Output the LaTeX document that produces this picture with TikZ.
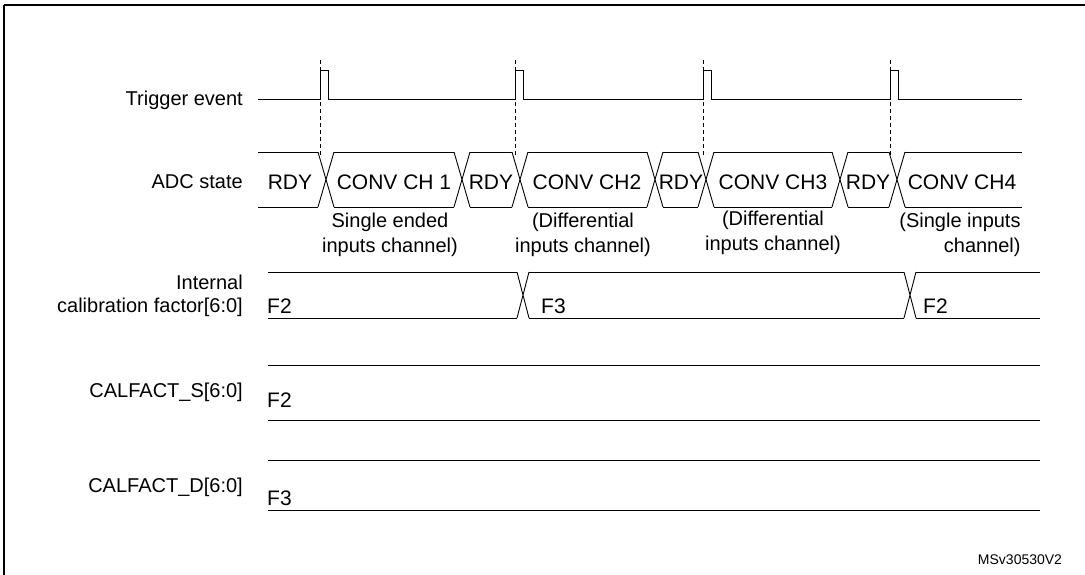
\documentclass[tikz,border=0pt]{standalone}
\usepackage{fontspec}
\setmainfont{Liberation Sans}
\tikzset{
    sig/.style = {draw=black, line width=0.9pt},
    mark-line/.style = {draw=black, line width=0.8pt, dash pattern=on 4pt off 3pt},
    row-label/.style = {anchor=east, align=right, inner sep=2pt, font=\fontsize{20}{23}\selectfont},
    bus-text/.style = {inner sep=1pt, font=\fontsize{21}{24}\selectfont},
    note-text/.style = {align=center, inner sep=1pt, font=\fontsize{20}{25}\selectfont},
}

\begin{document}
\begin{tikzpicture}[x=1pt, y=-1pt]
\useasboundingbox (0,0) rectangle (1085,575);
\draw[line width=1.2pt] (4,5) -- (4,580) (4,5) -- (1090,5);

% trigger event
\node[row-label] (trig) at (245,100) {Trigger event};
\draw[sig] (258,99) -- (320,99) -- (320,70) -- (328,70) -- (328,99) -- (515,99) -- (515,70) -- (523,70) -- (523,99)
    -- (703,99) -- (703,70) -- (711,70) -- (711,99) -- (890,99) -- (890,70) -- (898,70) -- (898,99) -- (1022,99);
\foreach \x in {320,515,703,890}
    \draw[mark-line] (\x,60) -- (\x,155);

% ADC state bus
\node[row-label] (adc) at (245,182) {ADC state};
\draw[sig] (258,152) -- (318,152) (258,207) -- (318,207);
\foreach \a/\b in {326/462,462/520,520/655,655/706,706/840,840/897}
    \draw[sig] (\a+8,152) -- (\b-8,152) (\a+8,207) -- (\b-8,207);
\foreach \c in {326,462,520,655,706,840,897}
    \draw[sig] (\c-8,152) -- (\c+8,207) (\c-8,207) -- (\c+8,152);
\draw[sig] (905,152) -- (1022,152) (905,207) -- (1022,207);
\node[bus-text] (rdy1) at (290,182) {RDY};
\node[bus-text] (ch1) at (394,182) {CONV CH 1};
\node[bus-text] (rdy2) at (491,182) {RDY};
\node[bus-text] (ch2) at (587,182) {CONV CH2};
\node[bus-text] (rdy3) at (681,182) {RDY};
\node[bus-text] (ch3) at (773,182) {CONV CH3};
\node[bus-text] (rdy4) at (868,182) {RDY};
\node[bus-text] (ch4) at (962,182) {CONV CH4};
\node[note-text] (n1) at (390,235) {Single ended\\inputs channel)};
\node[note-text] (n2) at (583,235) {(Differential\\inputs channel)};
\node[note-text] (n3) at (773,233) {(Differential\\inputs channel)};
\node[note-text] (n4) at (960,235) {(Single inputs\\\hfill channel)};

% internal calibration factor
\node[row-label] (cal) at (245,296) {Internal\\calibration factor[6:0]};
\draw[sig] (268,272) -- (517,272) (268,318) -- (517,318);
\foreach \c in {523,910}
    \draw[sig] (\c-6,272) -- (\c+6,318) (\c-6,318) -- (\c+6,272);
\draw[sig] (529,272) -- (904,272) (529,318) -- (904,318);
\draw[sig] (916,272) -- (1040,272) (916,318) -- (1040,318);
\node[bus-text, anchor=west] (f2a) at (266,306) {F2};
\node[bus-text, anchor=west] (f3a) at (540,306) {F3};
\node[bus-text, anchor=west] (f2b) at (922,306) {F2};

% calibration registers
\node[row-label] (cfs) at (245,392) {CALFACT\_S[6:0]};
\draw[sig] (268,365) -- (1040,365) (268,420) -- (1040,420);
\node[bus-text, anchor=west] (f2c) at (266,400) {F2};
\node[row-label] (cfd) at (245,487) {CALFACT\_D[6:0]};
\draw[sig] (268,460) -- (1040,460) (268,510) -- (1040,510);
\node[bus-text, anchor=west] (f3b) at (266,498) {F3};

\node[font=\fontsize{14}{16}\selectfont] (ref) at (1020,560) {MSv30530V2};
\end{tikzpicture}
\end{document}
